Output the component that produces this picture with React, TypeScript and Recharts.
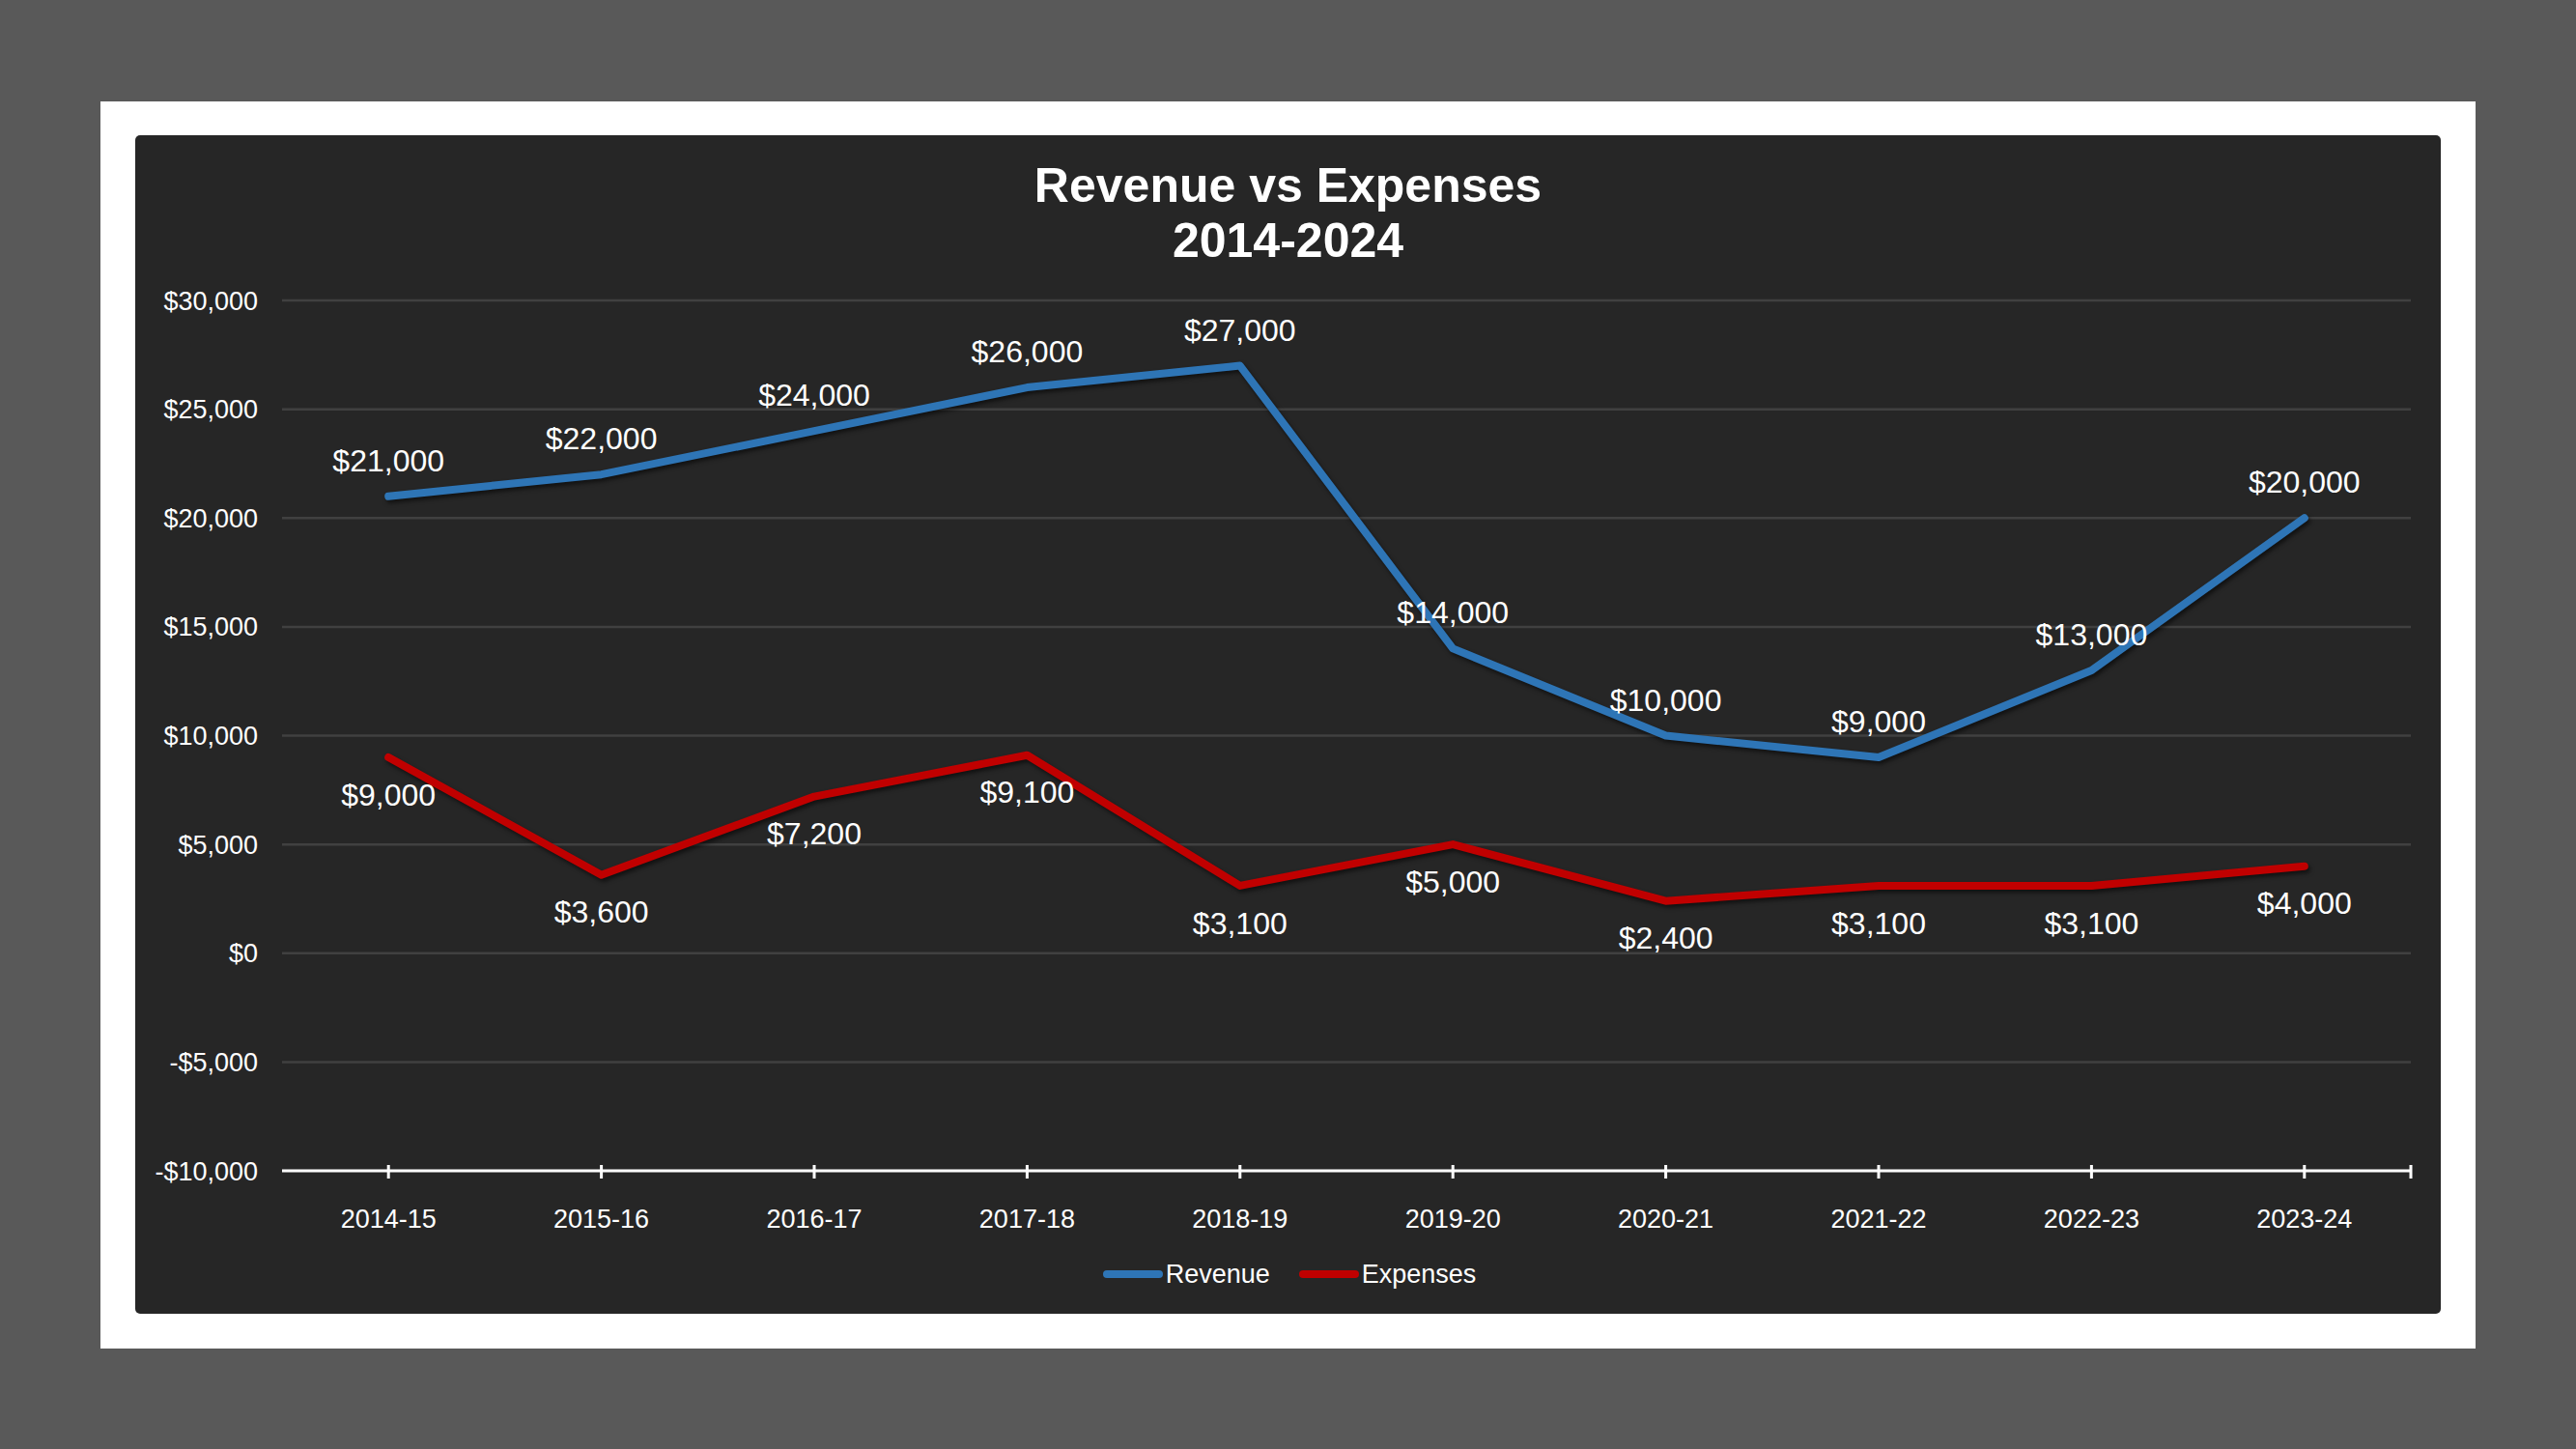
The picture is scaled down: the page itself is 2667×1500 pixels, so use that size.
import React from 'react';
import { LineChart, Line, XAxis, YAxis, CartesianGrid, Legend, LabelList } from 'recharts';

// fiscal years on the category axis
const years = ['2014-15', '2015-16', '2016-17', '2017-18', '2018-19', '2019-20', '2020-21', '2021-22', '2022-23', '2023-24'];
const revenue = [21000, 22000, 24000, 26000, 27000, 14000, 10000, 9000, 13000, 20000];
const expenses = [9000, 3600, 7200, 9100, 3100, 5000, 2400, 3100, 3100, 4000];
const yTicks = [-10000, -5000, 0, 5000, 10000, 15000, 20000, 25000, 30000];

const data = years.map((year, i) => ({ year, revenue: revenue[i], expenses: expenses[i] }));

const BLUE = '#2E75B6';
const RED = '#C00000';
const FONT = '"Liberation Sans", Arial, sans-serif';

const CHART_W = 2387;
const CHART_H = 1220;
const MARGIN = { top: 171, right: 31, left: 0, bottom: 0 };
const Y_W = 152;
const LEGEND_H = 70;
const BAND = (CHART_W - MARGIN.left - MARGIN.right - Y_W) / years.length;

const money = (v: number) => (v < 0 ? '-' : '') + '$' + Math.abs(v).toLocaleString('en-US');

const XTick = (props: any) => {
  const { x, y, payload, index } = props;
  return (
    <g>
      <line x1={x} x2={x} y1={y - 6} y2={y + 8} stroke="#fff" strokeWidth={3} />
      {index === years.length - 1 && (
        <line x1={x + BAND / 2} x2={x + BAND / 2} y1={y - 6} y2={y + 8} stroke="#fff" strokeWidth={3} />
      )}
      <text x={x} y={y + 59} textAnchor="middle" fill="#fff" fontSize={27} fontFamily={FONT}>
        {payload.value}
      </text>
    </g>
  );
};

const LegendContent = () => {
  const items = [
    { name: 'Revenue', color: BLUE },
    { name: 'Expenses', color: RED },
  ];
  return (
    <div style={{ height: LEGEND_H, display: 'flex', justifyContent: 'center', alignItems: 'flex-start', paddingLeft: 34 }}>
      {items.map((it, i) => (
        <div key={it.name} style={{ display: 'flex', alignItems: 'center', height: 58, marginLeft: i ? 30 : 0 }}>
          <svg width={62} height={10}>
            <line x1={4} x2={58} y1={5} y2={5} stroke={it.color} strokeWidth={8} strokeLinecap="round" />
          </svg>
          <span style={{ color: '#fff', fontSize: 27, fontFamily: FONT, marginLeft: 3 }}>{it.name}</span>
        </div>
      ))}
    </div>
  );
};

export default function App() {
  return (
    <div style={{ position: 'fixed', left: 0, top: 0, width: 2667, height: 1500, background: '#595959', fontFamily: FONT }}>
      <style>{'.recharts-line-curve{filter:drop-shadow(2px 3px 2px rgba(0,0,0,0.55));}'}</style>
      <div style={{ position: 'absolute', left: 104, top: 105, width: 2459, height: 1291, background: '#fff' }} />
      <div style={{ position: 'absolute', left: 140, top: 140, width: CHART_W, height: CHART_H, background: '#262626', borderRadius: 5 }}>
        <div
          style={{
            position: 'absolute',
            left: 0,
            top: 24,
            width: CHART_W,
            textAlign: 'center',
            color: '#fff',
            fontSize: 50,
            fontWeight: 'bold',
            lineHeight: '57px',
          }}
        >
          Revenue vs Expenses
          <br />
          2014-2024
        </div>
        <LineChart width={CHART_W} height={CHART_H} data={data} margin={MARGIN}>
          <CartesianGrid horizontal vertical={false} stroke="#404040" strokeWidth={2.5} />
          <XAxis
            dataKey="year"
            scale="band"
            height={148 - LEGEND_H}
            axisLine={{ stroke: '#fff', strokeWidth: 3 }}
            tickLine={false}
            tickSize={0}
            tickMargin={0}
            tick={<XTick />}
            interval={0}
          />
          <YAxis
            type="number"
            domain={[-10000, 30000]}
            ticks={yTicks}
            width={Y_W}
            axisLine={false}
            tickLine={false}
            tickSize={0}
            tickMargin={25}
            tickFormatter={money}
            tick={{ fill: '#fff', fontSize: 27, fontFamily: FONT }}
            interval={0}
          />
          <Legend verticalAlign="bottom" align="center" height={LEGEND_H} content={<LegendContent />} />
          <Line
            type="linear"
            dataKey="revenue"
            name="Revenue"
            stroke={BLUE}
            strokeWidth={8}
            strokeLinejoin="round"
            strokeLinecap="round"
            dot={false}
            activeDot={false}
            isAnimationActive={false}
          >
            <LabelList dataKey="revenue" position="top" offset={26} formatter={(v: any) => money(Number(v))} fill="#fff" stroke="none" fontSize={32} fontFamily={FONT} />
          </Line>
          <Line
            type="linear"
            dataKey="expenses"
            name="Expenses"
            stroke={RED}
            strokeWidth={8}
            strokeLinejoin="round"
            strokeLinecap="round"
            dot={false}
            activeDot={false}
            isAnimationActive={false}
          >
            <LabelList dataKey="expenses" position="bottom" offset={27} formatter={(v: any) => money(Number(v))} fill="#fff" stroke="none" fontSize={32} fontFamily={FONT} />
          </Line>
        </LineChart>
      </div>
    </div>
  );
}
